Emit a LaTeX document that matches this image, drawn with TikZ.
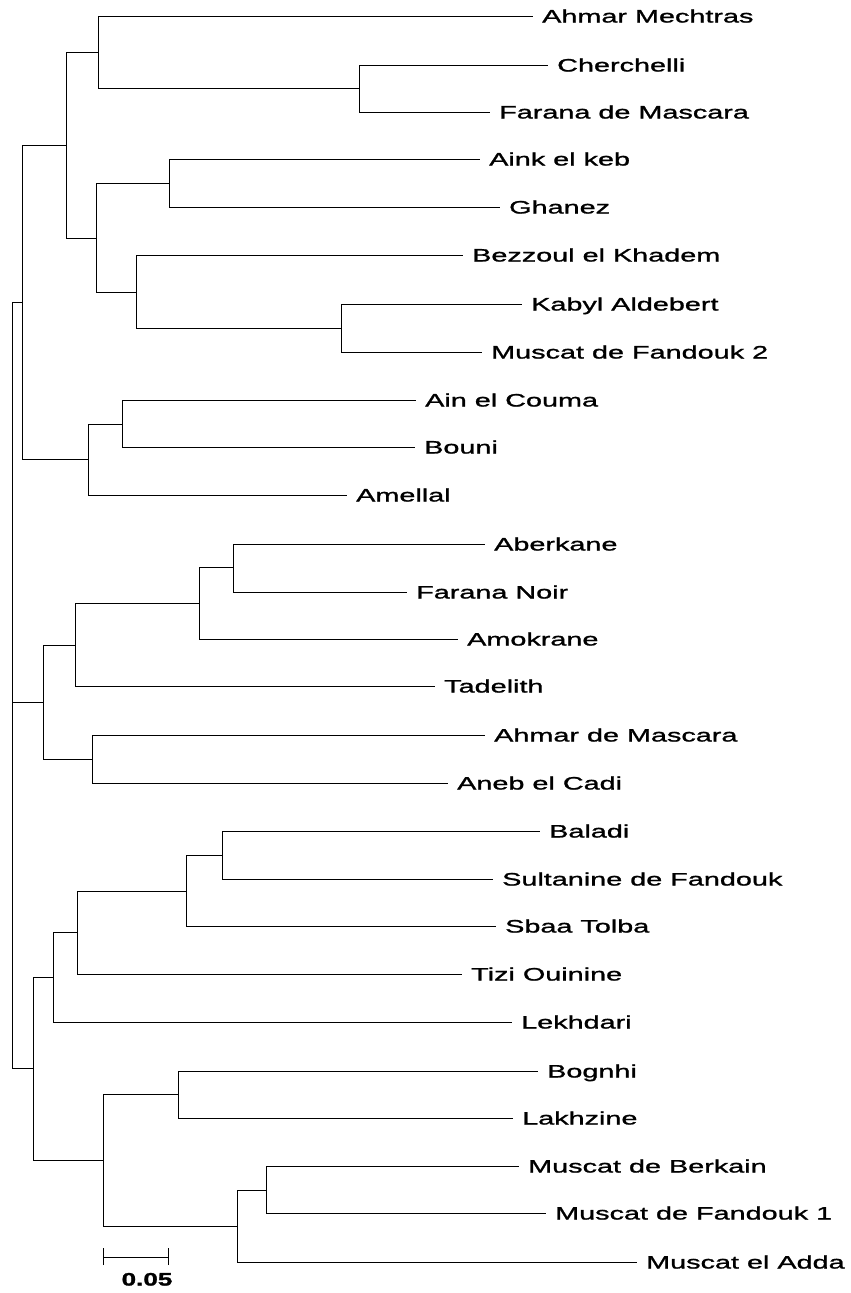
\documentclass[tikz,border=0pt]{standalone}
\usepackage{fontspec}
\newfontfamily\lab[FakeStretch=1.6,FakeBold=1.3]{Liberation Sans}
\newfontfamily\labb[FakeStretch=1.45,FakeBold=1.5]{Liberation Sans Bold}
\begin{document}
\begin{tikzpicture}[x=1pt,y=-1pt,
  br/.style={draw=black,line width=0.8pt},
  leaf/.style={anchor=west,inner xsep=9pt,inner ysep=0pt,text height=13pt,text depth=0pt,
    font=\lab\fontsize{18}{18}\selectfont}]
\useasboundingbox[fill=white] (0,0) rectangle (851,1293);
% internal nodes
\coordinate (r) at (12,702);
\coordinate (t1) at (22,302);
\coordinate (t2) at (66,145);
\coordinate (t3) at (98,52);
\coordinate (t4) at (359,88);
\coordinate (t5) at (96,238);
\coordinate (t6) at (169,183);
\coordinate (t7) at (136,292);
\coordinate (t7b) at (341,328);
\coordinate (t8) at (88,459);
\coordinate (t9) at (122,424);
\coordinate (m1) at (43,702);
\coordinate (m2) at (75,645);
\coordinate (m3) at (199,603);
\coordinate (m4) at (233,567);
\coordinate (m5) at (92,759);
\coordinate (b1) at (33,1068);
\coordinate (b2) at (53,977);
\coordinate (b3) at (77,932);
\coordinate (b4) at (186,891);
\coordinate (b5) at (222,855);
\coordinate (b6) at (103,1160);
\coordinate (b7) at (178,1094);
\coordinate (b8) at (237,1226);
\coordinate (b9) at (266,1190);
% leaves
\node[leaf] (l1) at (533,16) {Ahmar Mechtras};
\node[leaf] (l2) at (548,65) {Cherchelli};
\node[leaf] (l3) at (490,112) {Farana de Mascara};
\node[leaf] (l4) at (480,159) {Aink el keb};
\node[leaf] (l5) at (500,207) {Ghanez};
\node[leaf] (l6) at (463,255) {Bezzoul el Khadem};
\node[leaf] (l7) at (522,304) {Kabyl Aldebert};
\node[leaf] (l8) at (482,352) {Muscat de Fandouk 2};
\node[leaf] (l9) at (416,400) {Ain el Couma};
\node[leaf] (l10) at (415,447) {Bouni};
\node[leaf] (l11) at (347,495) {Amellal};
\node[leaf] (l12) at (485,544) {Aberkane};
\node[leaf] (l13) at (407,592) {Farana Noir};
\node[leaf] (l14) at (458,639) {Amokrane};
\node[leaf] (l15) at (435,686) {Tadelith};
\node[leaf] (l16) at (485,735) {Ahmar de Mascara};
\node[leaf] (l17) at (448,783) {Aneb el Cadi};
\node[leaf] (l18) at (540,831) {Baladi};
\node[leaf] (l19) at (493,879) {Sultanine de Fandouk};
\node[leaf] (l20) at (496,926) {Sbaa Tolba};
\node[leaf] (l21) at (462,974) {Tizi Ouinine};
\node[leaf] (l22) at (512,1022) {Lekhdari};
\node[leaf] (l23) at (538,1071) {Bognhi};
\node[leaf] (l24) at (513,1118) {Lakhzine};
\node[leaf] (l25) at (519,1166) {Muscat de Berkain};
\node[leaf] (l26) at (546,1213) {Muscat de Fandouk 1};
\node[leaf] (l27) at (637,1262) {Muscat el Adda};
% branches
\foreach \p/\c in {r/t1,r/m1,r/b1,
  t1/t2,t1/t8,t2/t3,t2/t5,t3/t4,t5/t6,t5/t7,t7/t7b,t8/t9,
  m1/m2,m1/m5,m2/m3,m3/m4,
  b1/b2,b1/b6,b2/b3,b3/b4,b4/b5,b6/b7,b6/b8,b8/b9}
  \draw[br] (\p) |- (\c);
\foreach \p/\c in {t3/l1,t4/l2,t4/l3,t6/l4,t6/l5,t7/l6,t7b/l7,t7b/l8,
  t9/l9,t9/l10,t8/l11,m4/l12,m4/l13,m3/l14,m2/l15,m5/l16,m5/l17,
  b5/l18,b5/l19,b4/l20,b3/l21,b2/l22,b7/l23,b7/l24,b9/l25,b9/l26,b8/l27}
  \draw[br] (\p) |- (\c.west);
% scale bar
\coordinate (s1) at (103,1257);
\coordinate (s2) at (168,1257);
\draw[br] (s1) -- (s2);
\draw[br] ([yshift=-8pt]s1) -- ([yshift=9pt]s1);
\draw[br] ([yshift=-8pt]s2) -- ([yshift=9pt]s2);
\node[font=\labb\fontsize{18}{18}\selectfont,inner sep=0pt,text height=13pt,text depth=0pt] (sl) at (147,1279) {0.05};
\end{tikzpicture}
\end{document}
